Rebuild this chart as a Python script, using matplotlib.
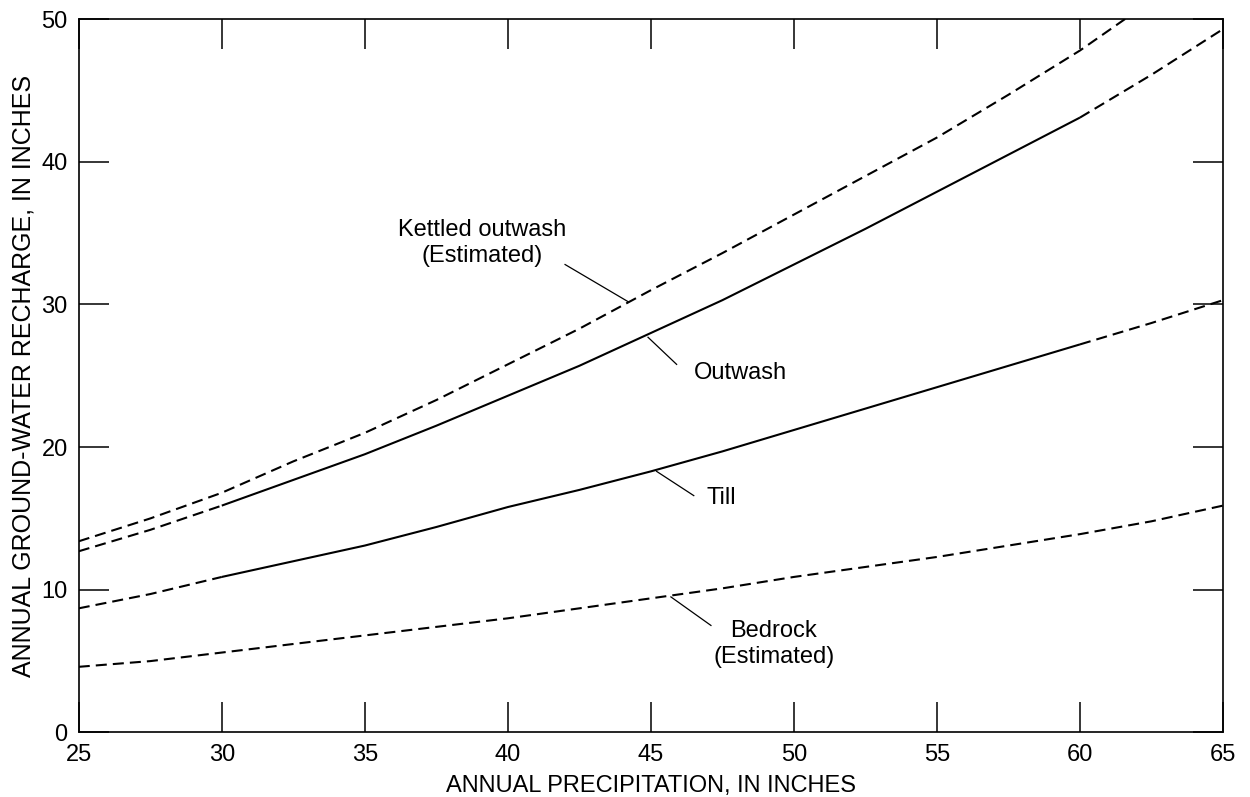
import numpy as np
import matplotlib
matplotlib.use("Agg")
import matplotlib.pyplot as plt

plt.rcParams['font.family'] = ['Liberation Sans', 'DejaVu Sans']

# precipitation grid (inches)
precip = [25, 27.5, 30, 32.5, 35, 37.5, 40, 42.5, 45, 47.5, 50, 52.5, 55, 57.5, 60, 62.5, 65]

# recharge (inches)
kettled_x = [25, 27.5, 30, 32.5, 35, 37.5, 40, 42.5, 45, 47.5, 50, 52.5, 55, 57.5, 60, 62]
kettled = [13.4, 15.0, 16.8, 19.0, 21.0, 23.3, 25.8, 28.3, 31.0, 33.6, 36.3, 39.0, 41.7, 44.7, 47.8, 50.6]
outwash = [12.7, 14.2, 15.9, 17.7, 19.5, 21.5, 23.6, 25.7, 28.0, 30.3, 32.8, 35.3, 37.9, 40.5, 43.1, 46.1, 49.3]
till = [8.7, 9.7, 10.9, 12.0, 13.1, 14.4, 15.8, 17.0, 18.3, 19.7, 21.2, 22.7, 24.2, 25.7, 27.2, 28.7, 30.3]
bedrock = [4.6, 5.0, 5.6, 6.2, 6.8, 7.4, 8.0, 8.7, 9.4, 10.1, 10.9, 11.6, 12.3, 13.1, 13.9, 14.8, 15.9]

# range where outwash and till curves are drawn solid (measured data)
solid_lo, solid_hi = 30, 60

xticks = [25, 30, 35, 40, 45, 50, 55, 60, 65]
yticks = [0, 10, 20, 30, 40, 50]

LW = 1.5
DASH = (5.3, 2.9)
FS = 17

fig = plt.figure(figsize=(12.5, 7.97), dpi=100)
ax = fig.add_axes([0.063, 0.081, 0.9154, 0.895])


def draw_dashed(x, y):
    ax.plot(x, y, color='black', lw=LW, linestyle=(0, DASH))


def draw_mixed(x, y):
    x = np.asarray(x, float)
    y = np.asarray(y, float)
    left = x <= solid_lo
    mid = (x >= solid_lo) & (x <= solid_hi)
    right = x >= solid_hi
    ax.plot(x[left], y[left], color='black', lw=LW, linestyle=(0, DASH))
    ax.plot(x[mid], y[mid], color='black', lw=LW, solid_capstyle='butt')
    ax.plot(x[right], y[right], color='black', lw=LW, linestyle=(0, DASH))


draw_dashed(kettled_x, kettled)
draw_mixed(precip, outwash)
draw_mixed(precip, till)
draw_dashed(precip, bedrock)

# labels with leader lines
ax.text(39.1, 34.3, 'Kettled outwash\n(Estimated)', ha='center', va='center',
        fontsize=FS, linespacing=1.2)
ax.plot([42.0, 44.2], [32.8, 30.2], color='black', lw=0.9)

ax.text(46.5, 25.2, 'Outwash', ha='left', va='center', fontsize=FS)
ax.plot([44.9, 45.9], [27.7, 25.8], color='black', lw=0.9)

ax.text(46.95, 16.4, 'Till', ha='left', va='center', fontsize=FS)
ax.plot([45.2, 46.5], [18.3, 16.6], color='black', lw=0.9)

ax.text(49.3, 6.2, 'Bedrock\n(Estimated)', ha='center', va='center',
        fontsize=FS, linespacing=1.2)
ax.plot([45.7, 47.1], [9.5, 7.5], color='black', lw=0.9)

ax.set_xlim(25, 65)
ax.set_ylim(0, 50)
ax.set_xticks(xticks)
ax.set_yticks(yticks)
ax.tick_params(axis='both', which='major', direction='in', length=21.5, width=1.1,
               top=True, right=True, labelsize=FS, color='black')
ax.tick_params(axis='x', pad=8.5)
ax.tick_params(axis='y', pad=8)
for s in ax.spines.values():
    s.set_linewidth(1.2)

ax.set_xlabel('ANNUAL PRECIPITATION, IN INCHES', fontsize=FS, labelpad=6)
ax.set_ylabel('ANNUAL GROUND-WATER RECHARGE, IN INCHES', fontsize=18, labelpad=4)

fig.savefig('out.png', dpi=100)
